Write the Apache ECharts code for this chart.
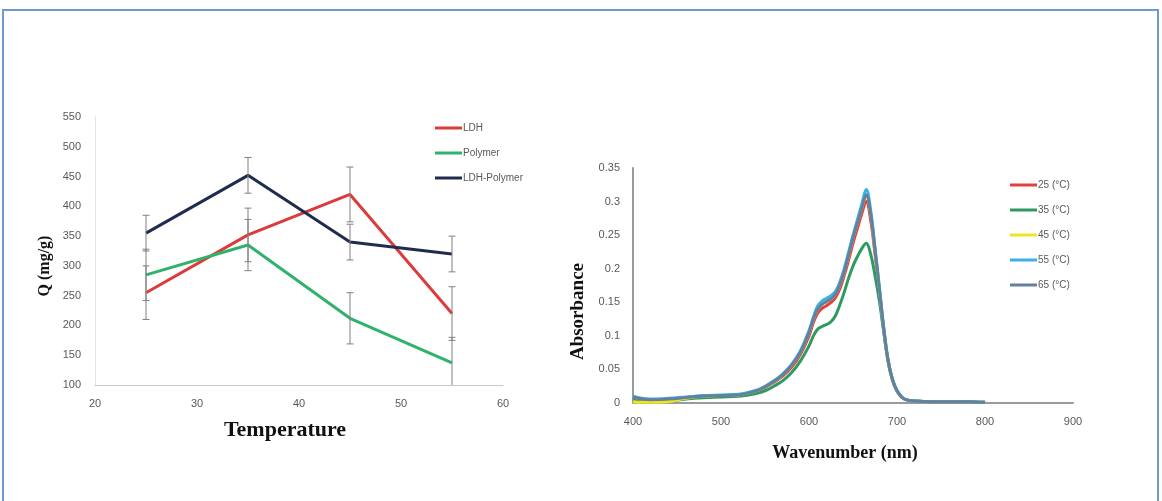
<!DOCTYPE html>
<html>
<head>
<meta charset="utf-8">
<script src="https://cdn.jsdelivr.net/npm/echarts@6/dist/echarts.min.js"></script>
<style>
  html, body { margin: 0; padding: 0; background: #fff; }
  #main { width: 1162px; height: 501px; }
</style>
</head>
<body>
<div id="main"></div>
<script>
// left panel: adsorption capacity vs temperature
const temps = [25, 35, 45, 55];
const ldh = [255, 352, 420, 220];
const polymer = [285, 335, 212, 137];
const ldhPolymer = [355, 452, 340, 320];
const ldhErr = [45, 45, 46, 45];
const polymerErr = [43, 43, 43, 43];
const ldhPolymerErr = [30, 30, 30, 30];
const tempTicks = [20, 30, 40, 50, 60];
const qTicks = [100, 150, 200, 250, 300, 350, 400, 450, 500, 550];

// right panel: absorbance spectra
const wavelengths = [400, 410, 420, 440, 460, 480, 500, 520, 540, 550, 560, 570, 580, 590, 600, 605, 610, 615, 620, 625, 630, 635, 640, 645, 650, 655, 660, 665, 670, 675, 680, 685, 690, 695, 700, 705, 710, 720, 740, 760, 780, 800];
const abs25 = [0.008, 0.006, 0.005, 0.006, 0.008, 0.010, 0.011, 0.012, 0.017, 0.023, 0.031, 0.040, 0.053, 0.072, 0.100, 0.120, 0.134, 0.141, 0.145, 0.150, 0.157, 0.170, 0.190, 0.213, 0.238, 0.260, 0.282, 0.300, 0.273, 0.222, 0.165, 0.108, 0.061, 0.033, 0.018, 0.009, 0.005, 0.003, 0.002, 0.002, 0.002, 0.001];
const abs35 = [0.004, 0.002, 0.002, 0.003, 0.006, 0.008, 0.009, 0.010, 0.014, 0.018, 0.025, 0.033, 0.045, 0.062, 0.085, 0.100, 0.110, 0.114, 0.117, 0.121, 0.130, 0.146, 0.165, 0.186, 0.204, 0.218, 0.230, 0.238, 0.222, 0.190, 0.152, 0.105, 0.062, 0.034, 0.018, 0.009, 0.005, 0.003, 0.002, 0.002, 0.002, 0.001];
const abs45 = [0.002, 0.001, 0.001, 0.002, 0.007, 0.010, 0.011, 0.012, 0.018, 0.024, 0.032, 0.042, 0.056, 0.075, 0.105, 0.125, 0.140, 0.147, 0.151, 0.155, 0.162, 0.176, 0.196, 0.220, 0.246, 0.268, 0.290, 0.309, 0.282, 0.228, 0.170, 0.110, 0.062, 0.034, 0.018, 0.009, 0.005, 0.003, 0.002, 0.002, 0.002, 0.001];
const abs55 = [0.010, 0.007, 0.006, 0.007, 0.009, 0.011, 0.012, 0.013, 0.019, 0.025, 0.033, 0.043, 0.057, 0.077, 0.108, 0.128, 0.145, 0.152, 0.156, 0.160, 0.166, 0.180, 0.200, 0.225, 0.250, 0.273, 0.296, 0.318, 0.288, 0.232, 0.172, 0.112, 0.064, 0.035, 0.019, 0.010, 0.005, 0.003, 0.002, 0.002, 0.002, 0.001];
const abs65 = [0.009, 0.006, 0.005, 0.006, 0.008, 0.010, 0.011, 0.012, 0.018, 0.024, 0.032, 0.042, 0.056, 0.075, 0.105, 0.125, 0.140, 0.147, 0.151, 0.155, 0.162, 0.176, 0.196, 0.220, 0.246, 0.268, 0.290, 0.310, 0.282, 0.228, 0.170, 0.110, 0.062, 0.034, 0.018, 0.009, 0.005, 0.003, 0.002, 0.002, 0.002, 0.001];
const wlTicks = [400, 500, 600, 700, 800, 900];
const absTicks = [0, 0.05, 0.1, 0.15, 0.2, 0.25, 0.3, 0.35];

const leftNames = ['LDH', 'Polymer', 'LDH-Polymer'];
const leftColors = ['#dc3b3b', '#2fb36c', '#1f2c4f'];
const rightNames = ['25 (°C)', '35 (°C)', '45 (°C)', '55 (°C)', '65 (°C)'];
const rightColors = ['#e5403a', '#2f9a60', '#f3e31e', '#3cb1e4', '#64809f'];

const pairs = (xs, ys) => xs.map((x, i) => [x, ys[i]]);
const errRows = (vals, errs) => temps.map((t, i) => [t, vals[i] - errs[i], vals[i] + errs[i]]);

function renderErr(params, api) {
  const x = api.value(0);
  const lo = api.coord([x, api.value(1)]);
  const hi = api.coord([x, api.value(2)]);
  const w = 3.5;
  const style = { stroke: '#808080', lineWidth: 1 };
  return {
    type: 'group',
    children: [
      { type: 'line', shape: { x1: lo[0], y1: lo[1], x2: hi[0], y2: hi[1] }, style },
      { type: 'line', shape: { x1: lo[0] - w, y1: lo[1], x2: lo[0] + w, y2: lo[1] }, style },
      { type: 'line', shape: { x1: hi[0] - w, y1: hi[1], x2: hi[0] + w, y2: hi[1] }, style }
    ]
  };
}

const labelStyle = { color: '#595959', fontSize: 11, fontFamily: 'Liberation Sans' };
const nameStyle = { color: '#111', fontWeight: 'bold', fontFamily: 'Liberation Serif' };

const myChart = echarts.init(document.getElementById('main'));

const option = {
  backgroundColor: '#fff',
  animation: false,
  graphic: [{
    type: 'rect', silent: true, z: -10,
    shape: { x: 3, y: 10, width: 1155, height: 500 },
    style: { fill: 'none', stroke: '#6e98d4', lineWidth: 2 }
  }],
  grid: [
    { left: 95, right: 659, top: 117, bottom: 116 },
    { left: 633, right: 89, top: 168, bottom: 98 }
  ],
  legend: [
    {
      data: leftNames, orient: 'vertical', left: 430, top: 118,
      icon: 'rect', itemWidth: 27, itemHeight: 3, itemGap: 15,
      textStyle: { color: '#595959', fontSize: 10, padding: [0, 0, 0, -4] }
    },
    {
      data: rightNames, orient: 'vertical', left: 1005, top: 175,
      icon: 'rect', itemWidth: 27, itemHeight: 3, itemGap: 15,
      textStyle: { color: '#595959', fontSize: 10, padding: [0, 0, 0, -4] }
    }
  ],
  xAxis: [
    {
      gridIndex: 0, type: 'value',
      min: tempTicks[0], max: tempTicks[tempTicks.length - 1], interval: tempTicks[1] - tempTicks[0],
      splitLine: { show: false }, axisTick: { show: false },
      axisLine: { lineStyle: { color: '#c8c8c8', width: 1 } },
      axisLabel: Object.assign({ margin: 13 }, labelStyle),
      name: 'Temperature', nameLocation: 'middle', nameGap: 34,
      nameTextStyle: Object.assign({ fontSize: 22, padding: [0, 28, 0, 0] }, nameStyle)
    },
    {
      gridIndex: 1, type: 'value',
      min: wlTicks[0], max: wlTicks[wlTicks.length - 1], interval: wlTicks[1] - wlTicks[0],
      splitLine: { show: false }, axisTick: { show: false },
      axisLine: { lineStyle: { color: '#9a9a9a', width: 2 } },
      axisLabel: Object.assign({ margin: 13 }, labelStyle),
      name: 'Wavenumber (nm)', nameLocation: 'middle', nameGap: 41,
      nameTextStyle: Object.assign({ fontSize: 18, padding: [0, 16, 0, 0] }, nameStyle)
    }
  ],
  yAxis: [
    {
      gridIndex: 0, type: 'value',
      min: qTicks[0], max: qTicks[qTicks.length - 1], interval: qTicks[1] - qTicks[0],
      splitLine: { show: false }, axisTick: { show: false },
      axisLine: { show: true, lineStyle: { color: '#e3e3e3', width: 1 } },
      axisLabel: Object.assign({ margin: 14 }, labelStyle),
      name: 'Q (mg/g)', nameLocation: 'middle', nameGap: 42,
      nameTextStyle: Object.assign({ fontSize: 16, padding: [0, 30, 0, 0] }, nameStyle)
    },
    {
      gridIndex: 1, type: 'value',
      min: absTicks[0], max: absTicks[absTicks.length - 1], interval: absTicks[1] - absTicks[0],
      splitLine: { show: false }, axisTick: { show: false },
      axisLine: { show: true, lineStyle: { color: '#9a9a9a', width: 2 } },
      axisLabel: Object.assign({ margin: 13 }, labelStyle),
      name: 'Absorbance', nameLocation: 'middle', nameGap: 45,
      nameTextStyle: Object.assign({ fontSize: 19, padding: [0, 52, 0, 0] }, nameStyle)
    }
  ],
  series: [
    ...[ldh, polymer, ldhPolymer].map((vals, i) => ({
      name: leftNames[i], type: 'line', xAxisIndex: 0, yAxisIndex: 0,
      data: pairs(temps, vals), symbol: 'none',
      lineStyle: { width: 3, color: leftColors[i] }, itemStyle: { color: leftColors[i] }
    })),
    ...[[ldh, ldhErr], [polymer, polymerErr], [ldhPolymer, ldhPolymerErr]].map(([vals, errs], i) => ({
      name: leftNames[i] + ' error', type: 'custom', xAxisIndex: 0, yAxisIndex: 0,
      renderItem: renderErr, clip: true, z: 5,
      encode: { x: 0, y: [1, 2] },
      data: errRows(vals, errs)
    })),
    ...[abs25, abs35, abs45, abs55, abs65].map((vals, i) => ({
      name: rightNames[i], type: 'line', xAxisIndex: 1, yAxisIndex: 1,
      data: pairs(wavelengths, vals), symbol: 'none', smooth: 0.4,
      lineStyle: { width: 3, color: rightColors[i] }, itemStyle: { color: rightColors[i] }
    }))
  ]
};

option && myChart.setOption(option);
</script>
</body>
</html>
